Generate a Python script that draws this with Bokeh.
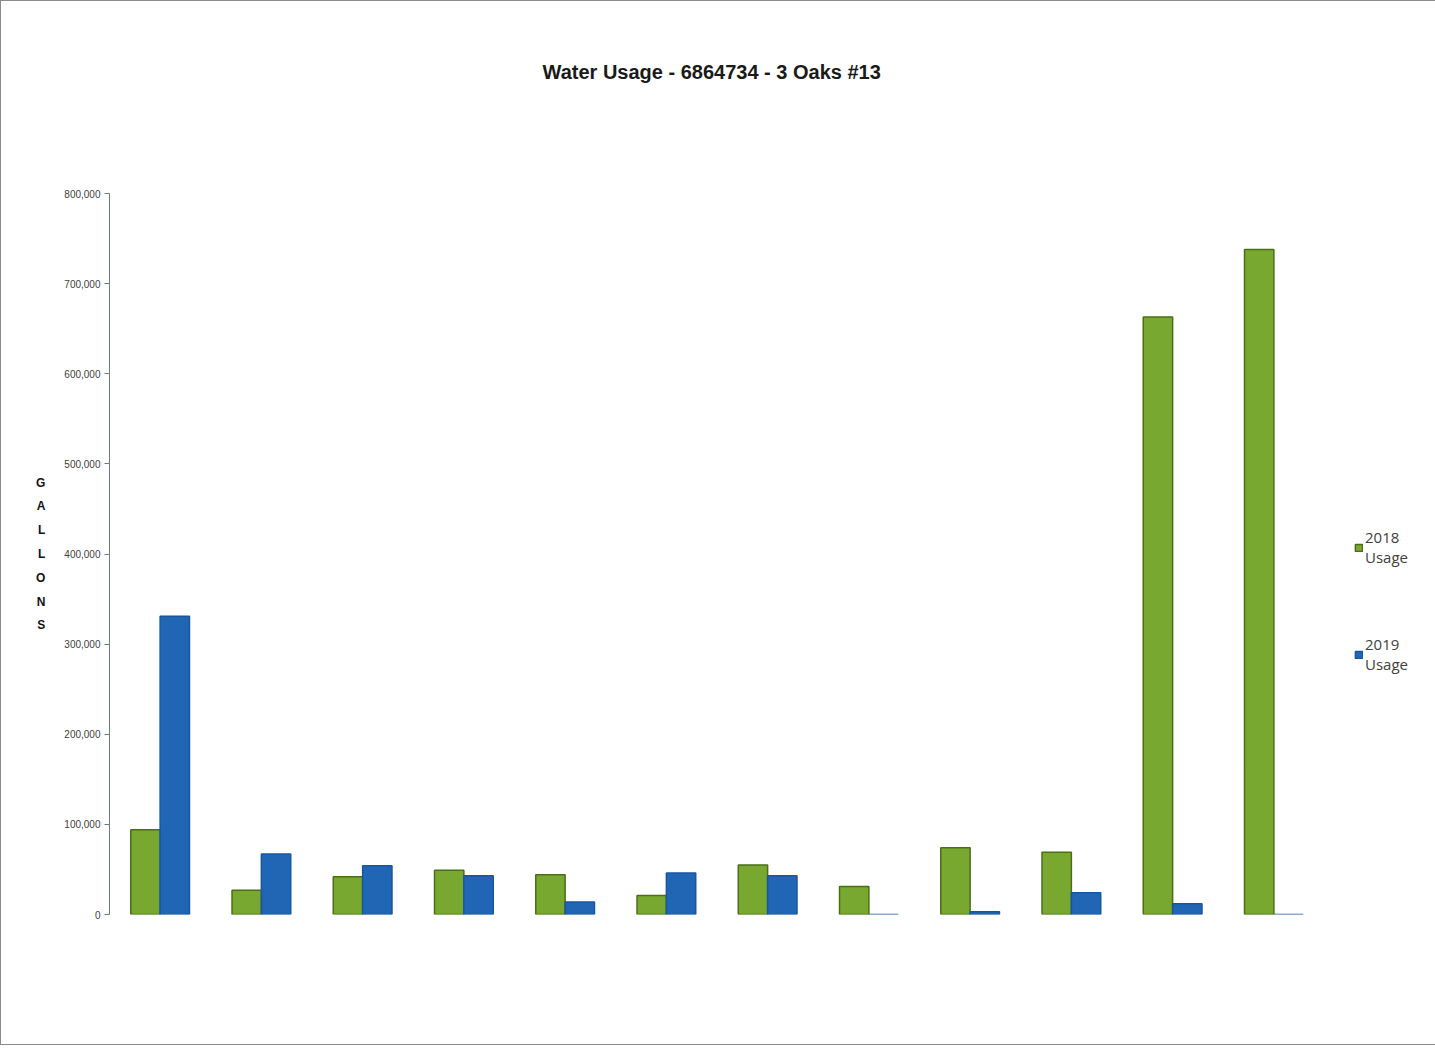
from bokeh.plotting import figure
from bokeh.models import (FactorRange, Range1d, NumeralTickFormatter, Legend, LegendItem,
                          ColumnDataSource, FixedTicker, Title)
from bokeh.transform import dodge
from bokeh.embed import file_html
from bokeh.resources import INLINE

months = ["Jan", "Feb", "Mar", "Apr", "May", "Jun", "Jul", "Aug", "Sep", "Oct", "Nov", "Dec"]
usage_2018 = [94000, 27000, 42000, 49000, 44000, 21000, 55000, 31000, 74000, 69000, 663000, 738000]
usage_2019 = [331000, 67000, 54000, 43000, 14000, 46000, 43000, 0, 3000, 24000, 12000, 0]
y_ticks = [0, 100000, 200000, 300000, 400000, 500000, 600000, 700000, 800000]
title_text = "Water Usage - 6864734 - 3 Oaks #13"
axis_title = "GALLONS"

src = ColumnDataSource(dict(month=months, u2018=usage_2018, u2019=usage_2019))

FONT = "'Liberation Sans', Arial, sans-serif"

p = figure(frame_width=1215, frame_height=721, x_range=FactorRange(factors=months, range_padding=0),
           y_range=Range1d(0, 800000), output_backend="svg", toolbar_location=None,
           min_border_left=108, min_border_right=10, min_border_top=10, min_border_bottom=130)
p.styles = {"border": "1px solid #8a8a8a"}

# real title outermost, spacer title next to the frame
p.title = Title(text=title_text, align="left", text_font=FONT, offset=433,
                text_font_size="20px", text_font_style="bold", text_color="#1a1a1a",
                standoff=115)
p.add_layout(Title(text=" ", text_font_size="10px", standoff=40), "above")

p.outline_line_color = None
p.xgrid.visible = False
p.ygrid.visible = False
p.xaxis.visible = False

ax = p.yaxis[0]
ax.ticker = FixedTicker(ticks=y_ticks)
ax.formatter = NumeralTickFormatter(format="0,0")
ax.major_label_text_font = FONT
ax.major_label_text_font_size = "10px"
ax.major_label_text_color = "#404040"
ax.axis_line_color = "#6f7b7b"
ax.major_tick_line_color = "#6f7b7b"
ax.major_tick_out = 5
ax.major_tick_in = 0
ax.minor_tick_line_color = None
ax.major_label_standoff = 4
ax.axis_label = "\n".join(axis_title)
ax.axis_label_orientation = "horizontal"
ax.axis_label_text_font = FONT
ax.axis_label_text_font_size = "12px"
ax.axis_label_text_font_style = "bold"
ax.axis_label_text_color = "#111111"
ax.axis_label_text_line_height = 1.7
ax.axis_label_standoff = 16

green_fill, green_line = "#78a830", "#4b6e17"
blue_fill, blue_line = "#2166b5", "#1a55a0"

r1 = p.vbar(x=dodge("month", -0.145, range=p.x_range), top="u2018", width=0.29, source=src,
            fill_color=green_fill, line_color=green_line, line_width=1.5)
r2 = p.vbar(x=dodge("month", 0.145, range=p.x_range), top="u2019", width=0.29, source=src,
            fill_color=blue_fill, line_color=blue_line, line_width=1.5)

legend = Legend(items=[LegendItem(label="2018\nUsage", renderers=[r1]),
                       LegendItem(label="2019\nUsage", renderers=[r2])],
                location=(30, 240), orientation="vertical",
                label_text_font="'Open Sans', 'Noto Sans', sans-serif", label_text_font_size="15px",
                label_text_line_height=2.3,
                label_text_color="#404040", glyph_width=9, glyph_height=9,
                spacing=67, padding=2, margin=0, label_standoff=2,
                border_line_color=None, background_fill_alpha=0)
p.add_layout(legend, "right")

open("out.html", "w").write(file_html(p, INLINE))
